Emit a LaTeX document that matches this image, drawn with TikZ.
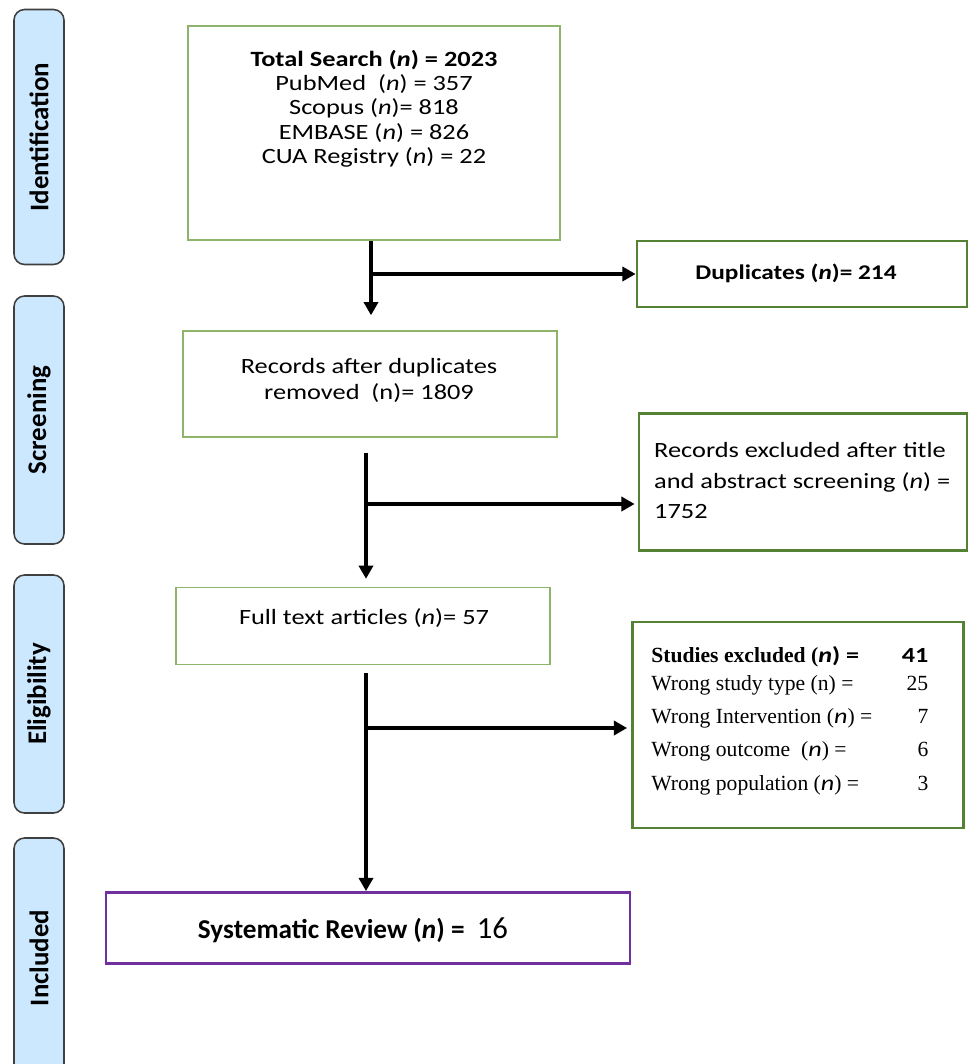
\documentclass[tikz,border=0pt]{standalone}
\usepackage{fontspec}
\setmainfont{Carlito}[FakeStretch=1.21]
\newfontfamily\tabfont{Carlito}
\newfontfamily\rowfont{Liberation Serif}
\usetikzlibrary{arrows.meta,calc}

\definecolor{tabblue}{RGB}{204,232,255}
\definecolor{tabedge}{RGB}{64,64,64}
\definecolor{lightgreen}{RGB}{141,180,106}
\definecolor{darkgreen}{RGB}{84,130,53}
\definecolor{boxpurple}{RGB}{112,48,160}

\begin{document}
\begin{tikzpicture}[x=0.02cm,y=-0.02cm,
    phase/.style={draw=tabedge, fill=tabblue, line width=0.9pt, rounded corners=6pt, inner sep=0pt},
    phaselabel/.style={rotate=90, font=\tabfont\bfseries\fontsize{15.3}{17}\selectfont},
    thinbox/.style={draw=lightgreen, line width=0.8pt, inner sep=0pt},
    thickbox/.style={draw=darkgreen, line width=1.6pt, inner sep=0pt},
    flow/.style={line width=2.1pt, -{Triangle[length=7.5pt,width=8pt]}},
    every node/.style={font=\fontsize{12.4}{15}\selectfont}]

\useasboundingbox (0,0) rectangle (968,1064);

% phase tabs
\node[phase, minimum width=50*0.02cm, minimum height=255*0.02cm] (ident) at (39,137) {};
\node[phaselabel] at (ident) {Identification};
\node[phase, minimum width=50*0.02cm, minimum height=248*0.02cm] (screen) at (39,420) {};
\node[phaselabel] at (screen) {Screening};
\node[phase, minimum width=50*0.02cm, minimum height=238*0.02cm] (elig) at (39,694) {};
\node[phaselabel] at (elig) {Eligibility};
\node[phase, minimum width=50*0.02cm, minimum height=240*0.02cm] (incl) at (39,958) {};
\node[phaselabel] at (incl) {Included};

% main boxes
\node[thinbox, minimum width=372*0.02cm, minimum height=214*0.02cm] (search) at (374,133) {};
\node[align=center, anchor=north, font=\fontsize{12.4}{13.8}\selectfont] (searchtxt) at (374,44)
  {\textbf{Total Search (\textit{n}) = 2023}\\
   PubMed~ (\textit{n}) = 357\\
   Scopus (\textit{n})= 818\\
   EMBASE (\textit{n}) = 826\\
   CUA Registry (\textit{n}) = 22};

\node[thickbox, minimum width=330*0.02cm, minimum height=66*0.02cm] (dup) at (802,274) {};
\node[font=\bfseries\fontsize{11.9}{14}\selectfont] (duptxt) at (796,273) {Duplicates (\textit{n})= 214};

\node[thinbox, minimum width=374*0.02cm, minimum height=106*0.02cm] (recdup) at (370,384) {};
\node[align=center, font=\fontsize{12.4}{14.8}\selectfont] (recduptxt) at (369,380)
  {Records after duplicates\\removed~ (n)= 1809};

\node[thickbox, minimum width=328*0.02cm, minimum height=137*0.02cm] (recexcl) at (803,482) {};
\node[align=left, anchor=north west, font=\fontsize{12.4}{17.5}\selectfont] (recexcltxt) at (648,436)
  {Records excluded after title\\and abstract screening (\textit{n}) =\\1752};

\node[thinbox, minimum width=374*0.02cm, minimum height=77*0.02cm] (fulltext) at (363,626) {};
\node (fulltexttxt) at (364,618) {Full text articles (\textit{n})= 57};

\node[thickbox, minimum width=331*0.02cm, minimum height=206*0.02cm] (studies) at (798,725) {};
\node[anchor=north west, inner sep=0pt] (studiestxt) at (651,646)
  {\rowfont\fontsize{12.3}{13.5}\selectfont
   \begin{tabular*}{5.54cm}{@{}l@{\extracolsep{\fill}}r@{}}
   \textbf{Studies excluded (\normalfont\bfseries\textit{n}) =} & {\normalfont\bfseries 41}\\[2pt]
   Wrong study type (n) = & 25\\[5.5pt]
   Wrong Intervention ({\normalfont\textit{n}}) = & 7\\[5pt]
   Wrong outcome~ ({\normalfont\textit{n}}) = & 6\\[6pt]
   Wrong population ({\normalfont\textit{n}}) = & 3
   \end{tabular*}};

\node[draw=boxpurple, line width=1.6pt, inner sep=0pt, minimum width=524*0.02cm,
  minimum height=71*0.02cm] (review) at (368,928) {};
\node[font=\tabfont\fontsize{15.5}{18}\selectfont] (reviewtxt) at (353,930)
  {\textbf{Systematic Review (\textit{n}) =} ~{\fontsize{17.5}{18}\selectfont 16}};

% connectors
\coordinate (b1) at (371,274);
\coordinate (b2) at (366,504);
\coordinate (b3) at (366,728);

\draw[flow, shorten >=15*0.02cm] (search.south -| b1) -- (recdup.north -| b1);
\draw[flow] (b1) -- (b1 -| dup.west);
\draw[flow, shorten <=15*0.02cm, shorten >=8*0.02cm] (recdup.south -| b2) -- (fulltext.north -| b2);
\draw[flow] (b2) -- ([xshift=-3*0.02cm]b2 -| recexcl.west);
\draw[flow, shorten <=8*0.02cm] (fulltext.south -| b3) -- (review.north -| b3);
\draw[flow] (b3) -- ([xshift=-4*0.02cm]b3 -| studies.west);

\end{tikzpicture}
\end{document}
